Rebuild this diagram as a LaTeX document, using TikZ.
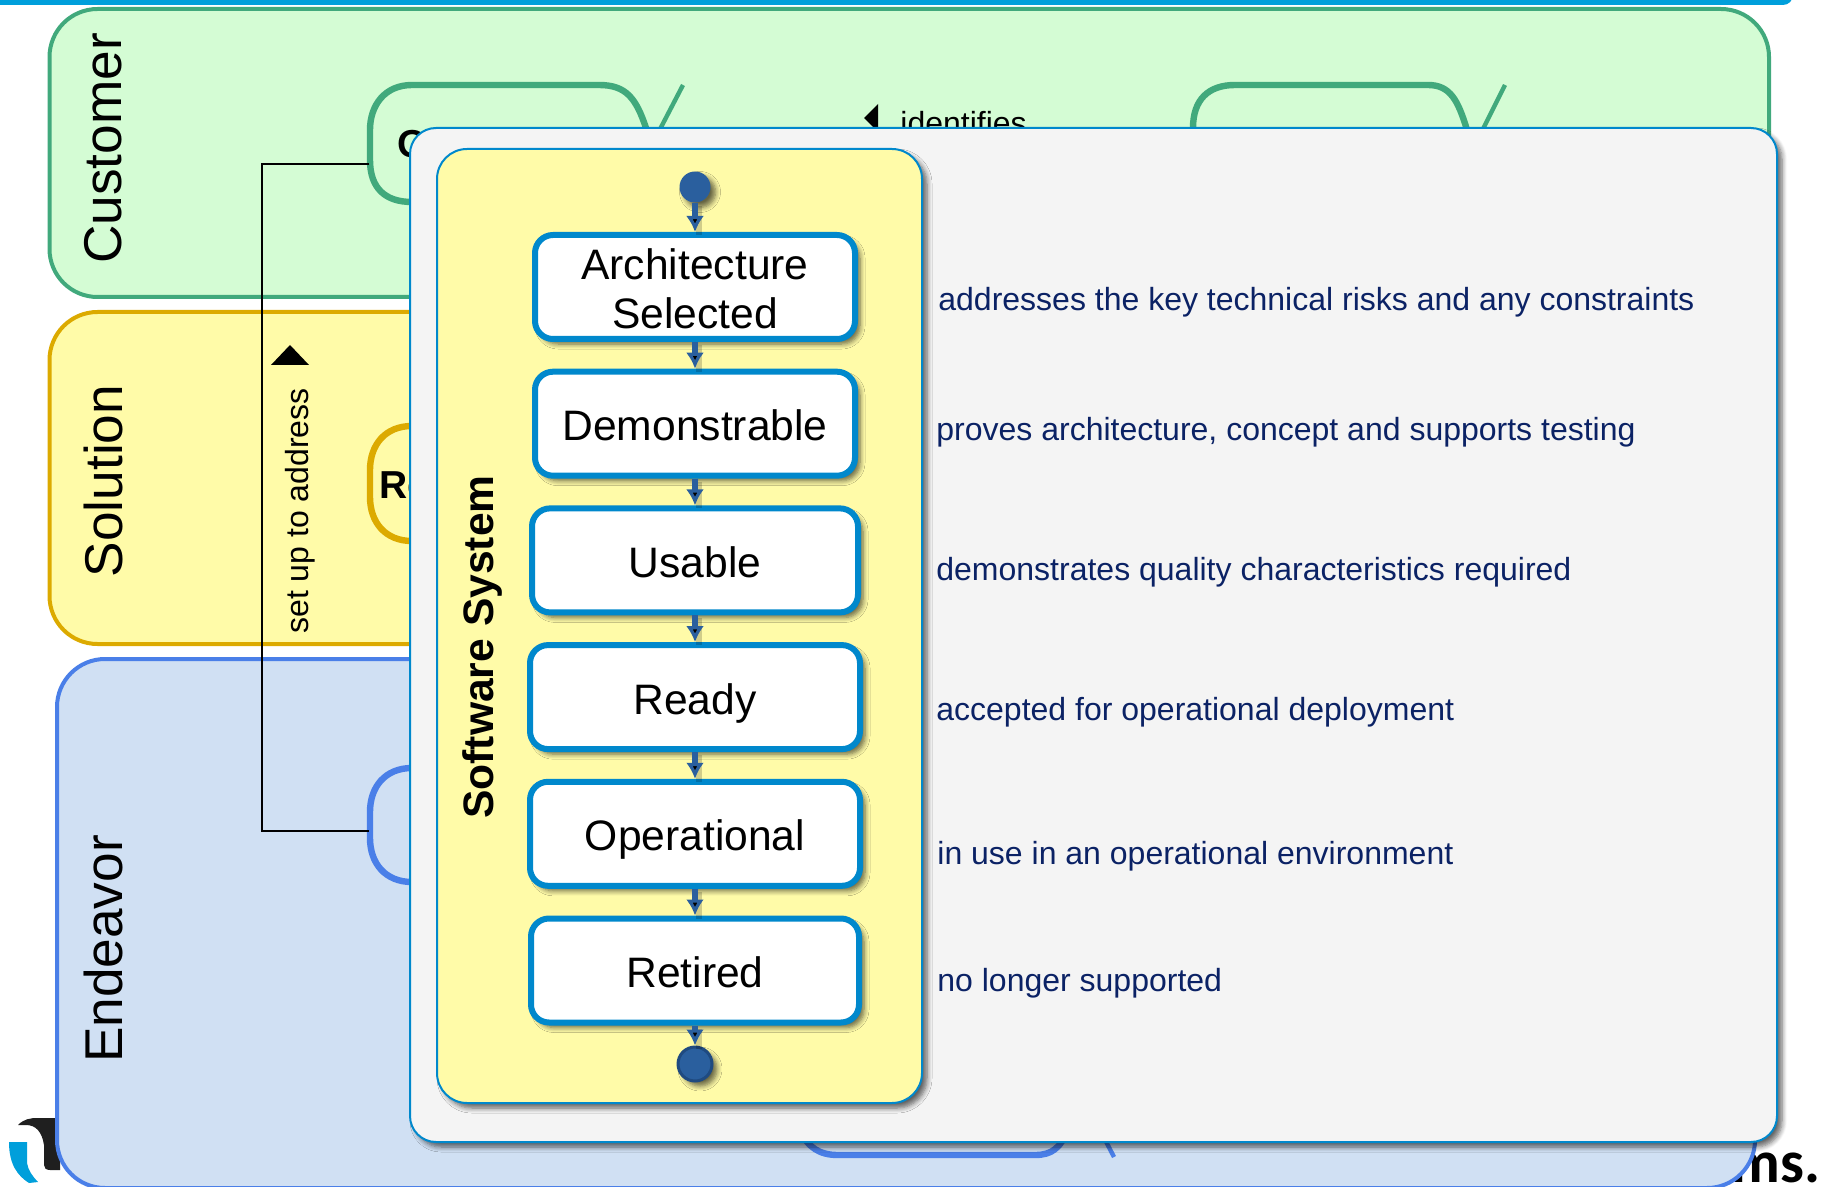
\documentclass[tikz,border=0pt]{standalone}
\usepackage{fontspec}
\setmainfont{Liberation Sans}
\newfontfamily\logofont{Carlito}
\usetikzlibrary{arrows.meta, positioning, shadows.blur}

\definecolor{barblue}{HTML}{009FDB}
\definecolor{greenfill}{HTML}{D4FCD4}
\definecolor{greenline}{HTML}{41A97C}
\definecolor{yellowfill}{HTML}{FFFBA8}
\definecolor{yellowline}{HTML}{DCAA00}
\definecolor{bluefill}{HTML}{D0E0F3}
\definecolor{blueline}{HTML}{4A7FE8}
\definecolor{panelfill}{HTML}{F4F4F4}
\definecolor{panelline}{HTML}{0088CC}
\definecolor{flowblue}{HTML}{2A5F9E}
\definecolor{flowdark}{HTML}{1F4A80}
\definecolor{notetext}{HTML}{0B2265}

\tikzset{
    softshadow/.style={blur shadow={shadow xshift=2.5pt, shadow yshift=-2.5pt, shadow blur radius=2.5pt, shadow blur steps=6, shadow opacity=60}},
    areabox/.style={rectangle, rounded corners=24pt, line width=2pt, inner sep=0pt},
    arealabel/.style={rotate=90, font=\fontsize{26.6}{27}\selectfont, inner sep=0pt},
    alphaline/.style={line width=3.2pt},
    slashline/.style={line width=2.2pt},
    hiddentext/.style={anchor=base west, inner sep=0pt, font=\bfseries\fontsize{19.5}{19.5}\selectfont},
    linklabel/.style={anchor=base west, inner sep=0pt, font=\fontsize{16}{16}\selectfont},
    panelbox/.style={rectangle, rounded corners=13pt, draw=panelline, line width=1pt, softshadow},
    statebox/.style={rectangle, rounded corners=9pt, draw=panelline, fill=white, line width=3pt, inner sep=0pt,
        minimum height=52pt, align=center, softshadow, font=\fontsize{21.3}{24.75}\selectfont},
    stateline/.style={statebox, text height=17pt, text depth=0pt},
    stateflow/.style={draw=flowblue, line width=2.6pt, -{Latex[width=9pt, length=8pt]}},
    flowshadow/.style={draw=black, opacity=0.18, line width=3pt, transform canvas={shift={(2pt,-1.5pt)}}},
    flowdot/.style={circle, fill=flowblue, inner sep=0pt, softshadow},
    noteline/.style={anchor=base west, inner sep=0pt, text=notetext, font=\fontsize{16}{16}\selectfont},
}

\begin{document}
\begin{tikzpicture}[x=0.5pt, y=-0.5pt, node distance=68.35pt, on grid]
    \useasboundingbox (0,0) rectangle (1830,1187);

    % things behind the areas
    \fill[barblue, rounded corners=5pt] (-20,-20) rectangle (1793,5);
    \fill[black!88] (18,1125) .. controls (24,1119) and (30,1118) .. (38,1118) -- (60,1118) -- (60,1170)
        -- (50,1170) .. controls (46,1170) and (44,1168) .. (44,1165) -- (44,1145) .. controls (42,1132) and (36,1125) .. (26,1125) -- cycle;
    \fill[barblue] (9,1142) -- (27,1142) -- (27,1163) .. controls (28,1170) and (33,1177) .. (38,1182)
        -- (29,1183) .. controls (18,1176) and (9,1165) .. (9,1142) -- cycle;
    \node[anchor=base east, inner sep=0pt, font=\logofont\bfseries\fontsize{30}{30}\selectfont] (brand) at (1821,1182) {ms.};

    % the three areas
    \node[areabox, draw=greenline, fill=greenfill, minimum width=859.75pt, minimum height=144pt] (customer) at (909.25,153) {};
    \node[areabox, draw=yellowline, fill=yellowfill, minimum width=859.75pt, minimum height=166pt] (solution) at (909.25,478) {};
    \node[areabox, draw=blueline, fill=bluefill, minimum width=849pt, minimum height=264.5pt] (endeavor) at (906,923.5) {};

    \node[arealabel] (customerlabel) at (103,148.5) {Customer};
    \node[arealabel] (solutionlabel) at (103,481) {Solution};
    \node[arealabel] (endeavorlabel) at (103,949) {Endeavor};

    % alphas, mostly covered by the panel
    \draw[alphaline, greenline] (646,128) .. controls (636,98) and (626,85) .. (599,85) -- (412,85)
        .. controls (385,85) and (370,105) .. (370,130) -- (370,160) .. controls (370,188) and (385,202) .. (412,202);
    \draw[slashline, greenline] (657,135) -- (683,85);
    \draw[alphaline, greenline] (1193,135) -- (1193,128) .. controls (1193,100) and (1208,85) .. (1235,85) -- (1428,85)
        .. controls (1450,85) and (1458,100) .. (1467,130);
    \draw[slashline, greenline] (1480,135) -- (1505,85);
    \draw[alphaline, yellowline] (412,426) .. controls (385,426) and (370,445) .. (370,470) -- (370,497)
        .. controls (370,522) and (385,541) .. (412,541);
    \draw[alphaline, blueline] (412,768) .. controls (385,768) and (370,787) .. (370,812) -- (370,838)
        .. controls (370,863) and (385,882) .. (412,882);
    \draw[alphaline, blueline] (800,1130) .. controls (808,1148) and (820,1155) .. (838,1155) -- (1035,1155)
        .. controls (1052,1155) and (1060,1148) .. (1068,1130);
    \draw[slashline, blueline] (1100,1130) -- (1114,1157);

    \node[hiddentext] (opportunity) at (397,158) {O};
    \node[hiddentext] (requirements) at (379,498.5) {Re};

    \coordinate (opportunityport) at (369,164);
    \coordinate (workport) at (369,831);
    \coordinate (linkcorner) at (262,164);
    \draw[black, line width=1.2pt] (opportunityport) -- (linkcorner) |- (workport);

    \fill (271,365) -- (290,345) -- (309,365) -- cycle;
    \node[rotate=90, inner sep=0pt, font=\fontsize{16}{16}\selectfont] (setup) at (300,511) {set up to address};
    \fill (878,104) -- (864,118) -- (878,132) -- cycle;
    \node[linklabel] (identifies) at (900,135) {identifies};

    % the panel on top
    \node[panelbox, fill=panelfill, minimum width=683.5pt, minimum height=507pt] (panel) at (1093.5,635) {};
    \node[panelbox, fill=yellowfill, rounded corners=15pt, minimum width=242.5pt, minimum height=477pt] (system) at (679.5,626) {};
    \node[rotate=90, inner sep=0pt, font=\bfseries\fontsize{21.3}{22}\selectfont] (systemlabel) at (482,647) {Software System};

    \node[statebox, minimum width=160pt] (selected) at (695,287) {\rule{0pt}{17.3pt}Architecture\\Selected};
    \node[stateline, minimum width=160pt] (demo) [below=of selected] {Demonstrable};
    \node[stateline, minimum width=163pt] (usable) [below=of demo] {Usable};
    \node[stateline, minimum width=165pt] (ready) [below=of usable] {Ready};
    \node[stateline, minimum width=165pt] (operational) [below=of ready] {Operational};
    \node[stateline, minimum width=164pt] (retired) [below=of operational] {Retired};
    \node[flowdot, minimum size=15.5pt] (start) at (695,187) {};
    \node[flowdot, draw=flowdark, line width=1.5pt, minimum size=17pt] (finish) at (695,1064) {};

    \foreach \from/\to in {start/selected, selected/demo, demo/usable, usable/ready, ready/operational, operational/retired, retired/finish}
        \path[flowshadow] (\from) edge (\to);

    \path[stateflow]
    (start) edge (selected)
    (selected) edge (demo)
    (demo) edge (usable)
    (usable) edge (ready)
    (ready) edge (operational)
    (operational) edge (retired)
    (retired) edge (finish);

    \node[noteline] (note1) at (938,311) {addresses the key technical risks and any constraints};
    \node[noteline] (note2) at (936,440) {proves architecture, concept and supports testing};
    \node[noteline] (note3) at (936,580) {demonstrates quality characteristics required};
    \node[noteline] (note4) at (936,720) {accepted for operational deployment};
    \node[noteline] (note5) at (937,864) {in use in an operational environment};
    \node[noteline] (note6) at (937,991) {no longer supported};
\end{tikzpicture}
\end{document}
